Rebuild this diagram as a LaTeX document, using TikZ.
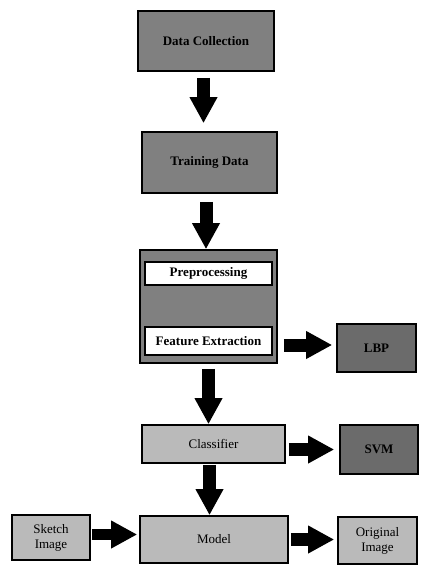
\documentclass[tikz,border=0pt]{standalone}
\usepackage{fontspec}
\setmainfont{Liberation Serif}
\usetikzlibrary{arrows.meta}
\begin{document}
\begin{tikzpicture}[x=1pt,y=-1pt,
  box/.style={draw=black, line width=1.6pt, inner sep=0pt, font=\fontsize{13}{15}\selectfont\bfseries, align=center},
  darkbox/.style={box, fill=black!50},
  darkerbox/.style={box, fill=black!58},
  lightbox/.style={box, fill=black!27, font=\fontsize{13}{15}\selectfont, text=black},
  whitebox/.style={box, fill=white, line width=1.2pt},
  barrow/.style={line width=13pt, -{Triangle[width=26pt,length=26pt]}}
]
\useasboundingbox (0,0) rectangle (424,572);
\node[darkbox, minimum width=136pt, minimum height=60pt] (dc) at (206,41) {Data Collection};
\node[darkbox, minimum width=135pt, minimum height=61pt] (td) at (209.5,162.5) {Training Data};
\node[darkbox, minimum width=137pt, minimum height=113pt] (pre) at (208.5,306.5) {};
\node[whitebox, minimum width=127pt, minimum height=23pt] (pp) at (208.5,273.5) {Preprocessing};
\node[whitebox, minimum width=127pt, minimum height=28pt] (fe) at (208.5,341) {Feature Extraction};
\node[darkerbox, minimum width=79pt, minimum height=48pt] (lbp) at (376.5,348) {LBP};
\node[lightbox, minimum width=143pt, minimum height=38pt] (cls) at (213.5,444) {Classifier};
\node[darkerbox, minimum width=78pt, minimum height=49pt] (svm) at (379,449.5) {SVM};
\node[lightbox, minimum width=148pt, minimum height=47pt] (model) at (214,539.5) {Model};
\node[lightbox, minimum width=78pt, minimum height=45pt] (sketch) at (51,537.5) {Sketch\\Image};
\node[lightbox, minimum width=79pt, minimum height=47pt] (orig) at (377.5,540.5) {Original\\Image};

\draw[barrow, shorten <=6pt, shorten >=8pt] ([xshift=-2.5pt]dc.south) -- ([xshift=-2.5pt]dc.south |- td.north);
\draw[barrow, shorten <=8pt] ([xshift=-3.5pt]td.south) -- ([xshift=-3.5pt]td.south |- pre.north);
\draw[barrow, shorten <=5pt] (pre.south) -- (pre.south |- cls.north);
\draw[barrow, shorten <=1pt] ([xshift=-4pt]cls.south) -- ([xshift=-4pt]cls.south |- model.north);
\draw[barrow, shorten <=6pt, shorten >=4pt] ([yshift=3pt]pre.east |- lbp.west) -- ([yshift=3pt]lbp.west);
\draw[barrow, shorten <=3pt, shorten >=5pt] (cls.east |- svm.west) -- (svm.west);
\draw[barrow, line width=11pt, shorten <=1pt, shorten >=2pt] ([yshift=3pt]sketch.east) -- ([yshift=3pt]sketch.east -| model.west);
\draw[barrow, shorten <=2pt, shorten >=3pt] (model.east) -- (model.east -| orig.west);
\end{tikzpicture}
\end{document}
